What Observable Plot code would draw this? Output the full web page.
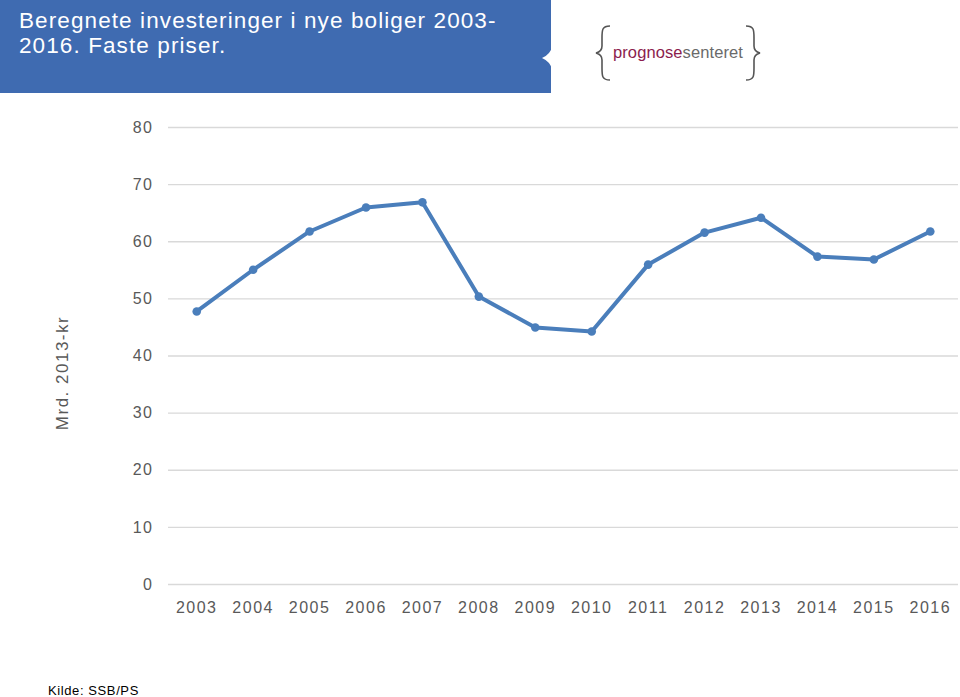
<!DOCTYPE html>
<html>
<head>
<meta charset="utf-8">
<script src="https://cdn.jsdelivr.net/npm/d3@7"></script>
<script src="https://cdn.jsdelivr.net/npm/@observablehq/plot@0.6"></script>
<style>
  html, body { margin: 0; padding: 0; background: #fff; }
  body { width: 960px; height: 697px; position: relative; overflow: hidden; font-family: "Liberation Sans", Arial, sans-serif; }
  #header { position: absolute; left: 0; top: 0; width: 551px; height: 93px; background: #3f6bb1; }
  #title { position: absolute; left: 19px; top: 8px; color: #fff; font-size: 22.5px; line-height: 25px; letter-spacing: 1.1px; }
  #notch { position: absolute; left: 540px; top: 46px; }
  #logo { position: absolute; left: 594px; top: 24px; }
  #chart { position: absolute; left: 0; top: 0; }
  #source { position: absolute; left: 48px; top: 683px; font-size: 13px; color: #000; letter-spacing: 0.6px; }
</style>
</head>
<body>
<div id="chart"></div>
<div id="header"><div id="title">Beregnete investeringer i nye boliger 2003-<br>2016. Faste priser.</div>
<svg id="notch" width="12" height="24"><path d="M12,0 Q11,8 2,12 Q11,16 12,24 Z" fill="#fff"/></svg>
</div>
<svg id="logo" width="172" height="60">
  <path d="M16,2 C8,2 8,6 8,14 L8,22 C8,26 6,28 2,29 C6,30 8,32 8,36 L8,44 C8,52 8,56 16,56" fill="none" stroke="#555" stroke-width="1.6"/>
  <path d="M152,2 C160,2 160,6 160,14 L160,22 C160,26 162,28 166,29 C162,30 160,32 160,36 L160,44 C160,52 160,56 152,56" fill="none" stroke="#555" stroke-width="1.6"/>
  <text x="19" y="34" font-family="'Liberation Sans', Arial, sans-serif" font-size="16.5" letter-spacing="0.1"><tspan fill="#8c1d4d">prognose</tspan><tspan fill="#6a6a6a">senteret</tspan></text>
</svg>
<div id="source">Kilde: SSB/PS</div>
<script>
const years = ["2003","2004","2005","2006","2007","2008","2009","2010","2011","2012","2013","2014","2015","2016"];
const values = [47.8, 55.1, 61.8, 66.0, 66.9, 50.4, 45.0, 44.3, 56.0, 61.6, 64.2, 57.4, 56.9, 61.8];
const yTicks = [0, 10, 20, 30, 40, 50, 60, 70, 80];
const yLabel = "Mrd. 2013-kr";

const data = years.map((y, i) => ({year: y, value: values[i]}));
const lineColor = "#4a7ebb";

const chart = Plot.plot({
  width: 960,
  height: 697,
  marginTop: 127,
  marginBottom: 113,
  marginLeft: 168,
  marginRight: 2,
  style: {fontFamily: "'Liberation Sans', Arial, sans-serif", fontSize: "16px", letterSpacing: "1.5px", background: "transparent"},
  x: {type: "point", domain: years, padding: 0.5, round: false, label: null},
  y: {domain: [0, 80], label: null},
  marks: [
    Plot.gridY(yTicks, {stroke: "#d9d9d9", strokeOpacity: 1, strokeWidth: 1.3}),
    Plot.axisY(yTicks, {tickSize: 0, tickPadding: 15, fill: "#595959", label: null}),
    Plot.axisX({tickSize: 0, tickPadding: 17, fill: "#595959", label: null}),
    Plot.line(data, {x: "year", y: "value", stroke: lineColor, strokeWidth: 4, strokeLinejoin: "round", strokeLinecap: "round"}),
    Plot.dot(data, {x: "year", y: "value", fill: lineColor, r: 4.3}),
    Plot.text([yLabel], {frameAnchor: "left", textAnchor: "middle", text: d => d, dx: -106, dy: 17, rotate: -90, fill: "#595959", fontSize: 17, letterSpacing: "1.8px"})
  ]
});
document.getElementById("chart").appendChild(chart);
</script>
</body>
</html>
